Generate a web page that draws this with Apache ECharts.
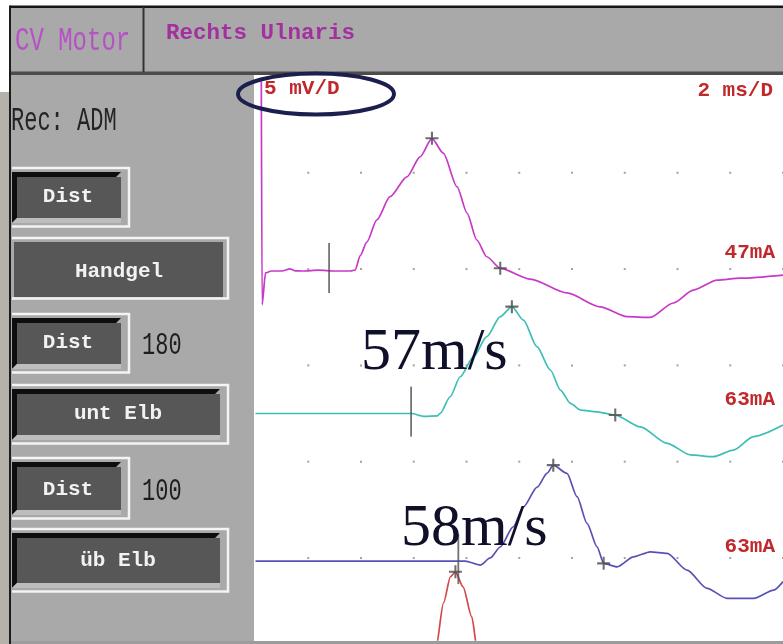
<!DOCTYPE html>
<html>
<head>
<meta charset="utf-8">
<script src="https://cdn.jsdelivr.net/npm/echarts@6/dist/echarts.min.js"></script>
<style>
  html, body { margin: 0; padding: 0; background: #ffffff; }
  #chart { width: 783px; height: 644px; }
</style>
</head>
<body>
<div id="chart"></div>
<script>
// Motor nerve conduction, right ulnar nerve, recording ADM.
// Time in ms after stimulus (2 ms per division), amplitude in mV (5 mV per division).

// Stimulation at the wrist (Handgel)
const wristT = [0.22, 0.25, 0.38, 0.6, 1.0, 1.3, 1.5, 1.8, 2.4, 3.0, 3.6, 3.78, 3.97, 4.22, 4.60, 5.10, 5.74, 6.24, 6.69, 7.12, 7.64, 8.02, 8.39, 8.77, 9.28, 10.42, 11.81, 13.07, 14.09, 14.97, 15.84, 16.60, 17.50, 18.39, 20.0];
const wristV = [9.8, -1.8, -0.15, -0.05, -0.05, 0.06, -0.04, -0.05, 0.0, -0.05, -0.05, 0.0, 0.75, 1.45, 2.60, 3.81, 4.84, 5.88, 6.84, 6.07, 4.33, 2.96, 1.56, 0.69, 0.09, -0.47, -1.19, -1.91, -2.42, -2.46, -1.71, -1.04, -0.52, -0.42, -0.26];

// Stimulation below the elbow (unt Elb)
const belowElbowT = [0, 1, 2, 3, 4, 5, 5.9, 6.4, 6.9, 7.0, 7.38, 7.76, 8.27, 8.77, 9.28, 9.72, 10.16, 10.67, 11.18, 11.56, 11.94, 12.32, 12.95, 13.64, 14.59, 15.61, 16.49, 17.36, 18.12, 18.88, 20.0];
const belowElbowV = [0, 0, 0, 0, 0, 0, 0, -0.15, -0.12, 0.01, 0.87, 1.91, 2.96, 3.99, 5.03, 5.55, 4.85, 3.47, 2.26, 1.22, 0.53, 0.18, 0.09, -0.08, -0.69, -1.55, -2.15, -2.24, -1.90, -1.20, -0.60];

// Stimulation above the elbow (üb Elb)
const aboveElbowT = [0, 2, 4, 6, 7.95, 8.52, 8.90, 9.28, 9.77, 10.15, 10.68, 11.06, 11.29, 11.81, 12.19, 12.57, 12.95, 13.20, 13.71, 14.33, 14.97, 15.61, 16.36, 17.12, 17.88, 18.89, 19.65, 20.0];
const aboveElbowV = [0, 0, 0, 0, 0, -0.21, 0.16, 0.73, 1.77, 2.80, 3.84, 4.57, 4.98, 4.55, 3.34, 1.96, 0.74, -0.12, -0.30, 0.22, 0.48, 0.40, -0.47, -1.42, -1.94, -1.94, -1.51, -1.07];

// Next trace in the stack, mostly below the display
const axillaT = [6.3, 6.83, 7.13, 7.39, 7.58, 7.87, 8.20, 8.41, 8.9];
const axillaV = [0, 1.23, 3.67, 5.02, 5.28, 4.50, 2.94, 1.23, 0];

// Vertical position (mV) of each trace's baseline on the screen
const traceBaseline = [-10.05, -17.5, -25.16, -31.0];

// Onset cursors (ms) for the three complete traces
const onsetTrace = [0, 1, 2];
const onsetT = [2.79, 5.90, 7.69];

// Peak / end cursors
const cursorTrace = [0, 0, 1, 1, 2, 2, 3];
const cursorT = [6.69, 9.28, 9.72, 13.64, 11.29, 13.20, 7.58];
const cursorV = [6.84, 0.09, 5.55, -0.08, 4.98, -0.12, 5.28];

// Stimulus intensity per trace
const stimLabels = ['47mA', '63mA', '63mA'];
const velocityLabels = ['57m/s', '58m/s'];
const distances = ['180', '100'];

// Graticule dot positions
const gridTimes = [2, 4, 6, 8, 10, 12, 14, 16, 18, 20];
const gridLevels = [-5, -10, -15, -20, -25];

const traceColors = ['#c73ac8', '#3cbfb4', '#5852b6', '#d24848'];

const traces = [
  [wristT, wristV],
  [belowElbowT, belowElbowV],
  [aboveElbowT, aboveElbowV],
  [axillaT, axillaV]
];

const dotData = [];
gridTimes.forEach(t => gridLevels.forEach(v => dotData.push([t, v])));

const lineSeries = traces.map(([ts, vs], k) => ({
  type: 'line',
  data: ts.map((t, i) => [t, vs[i] + traceBaseline[k]]),
  showSymbol: false,
  symbol: 'none',
  smooth: 0.25,
  smoothMonotone: 'x',
  clip: true,
  z: 3,
  lineStyle: { color: traceColors[k], width: 1.7 }
}));

const monoTall = '22px "Liberation Mono"';
const btnFont = 'bold 21px "Liberation Mono"';
const redFont = 'bold 21px "Liberation Mono"';

// Panel buttons: frame top, frame bottom, frame right, label, label centre, bevel
const buttons = [
  { T: 167, B: 228, R: 130, label: 'Dist',    cx: 68,  cy: 197, bevel: true },
  { T: 237, B: 300, R: 229, label: 'Handgel', cx: 119, cy: 272, bevel: false },
  { T: 313, B: 374, R: 130, label: 'Dist',    cx: 68,  cy: 343, bevel: true },
  { T: 384, B: 445, R: 229, label: 'unt Elb', cx: 118, cy: 414, bevel: true },
  { T: 457, B: 520, R: 130, label: 'Dist',    cx: 68,  cy: 490, bevel: true },
  { T: 528, B: 593, R: 229, label: 'üb Elb',  cx: 118, cy: 561, bevel: true }
];

const g = [];
// photo margin and window frame
g.push({ type: 'rect', shape: { x: 0, y: 92, width: 10, height: 552 }, style: { fill: '#b5b2ac' }, z: 0 });
g.push({ type: 'rect', shape: { x: 10, y: 7, width: 773, height: 68 }, style: { fill: '#a9a9a9' }, z: 0 });
g.push({ type: 'rect', shape: { x: 10, y: 5.5, width: 773, height: 2.5 }, style: { fill: '#161616' }, z: 1 });
g.push({ type: 'rect', shape: { x: 10, y: 71.5, width: 773, height: 3.5 }, style: { fill: '#4c4c4c' }, z: 1 });
g.push({ type: 'rect', shape: { x: 142.5, y: 7, width: 2, height: 65 }, style: { fill: '#333333' }, z: 1 });
g.push({ type: 'rect', shape: { x: 10, y: 75, width: 244, height: 569 }, style: { fill: '#a9a9a9' }, z: 0 });
g.push({ type: 'rect', shape: { x: 9, y: 5.5, width: 2, height: 639 }, style: { fill: '#1c1c1c' }, z: 1 });
g.push({ type: 'rect', shape: { x: 11, y: 641, width: 772, height: 3 }, style: { fill: '#9c9c9c' }, z: 1 });

// title texts
g.push({ type: 'text', x: 15, y: 41, scaleY: 1.35, z: 2,
  style: { text: 'CV Motor', font: '24px "Liberation Mono"', fill: '#b552c4', textAlign: 'left', textVerticalAlign: 'middle' } });
g.push({ type: 'text', x: 166, y: 33, z: 2,
  style: { text: 'Rechts Ulnaris', font: 'bold 22.5px "Liberation Mono"', fill: '#a3309f', textAlign: 'left', textVerticalAlign: 'middle' } });
g.push({ type: 'text', x: 11, y: 121, scaleY: 1.5, z: 2,
  style: { text: 'Rec: ADM', font: monoTall, fill: '#242424', textAlign: 'left', textVerticalAlign: 'middle' } });

buttons.forEach(b => {
  g.push({ type: 'polyline', z: 2,
    shape: { points: [[12, b.T + 1], [b.R - 1, b.T + 1], [b.R - 1, b.B - 1.5], [12, b.B - 1.5]] },
    style: { stroke: '#f4f4f4', lineWidth: 2.5, fill: null } });
  if (b.bevel) {
    g.push({ type: 'polygon', z: 2,
      shape: { points: [[12, b.T + 5], [b.R - 9, b.T + 5], [b.R - 14, b.T + 10], [17, b.T + 10], [17, b.B - 10], [12, b.B - 5]] },
      style: { fill: '#0e0e0e' } });
    g.push({ type: 'polygon', z: 2,
      shape: { points: [[12, b.B - 5], [17, b.B - 10], [b.R - 9, b.B - 10], [b.R - 9, b.B - 5]] },
      style: { fill: '#bdbdbd' } });
    g.push({ type: 'rect', z: 2,
      shape: { x: 17, y: b.T + 10, width: b.R - 26, height: b.B - b.T - 20 },
      style: { fill: '#575757' } });
  } else {
    g.push({ type: 'rect', z: 2,
      shape: { x: 14, y: b.T + 5, width: b.R - 20, height: b.B - b.T - 8 },
      style: { fill: '#575757' } });
  }
  g.push({ type: 'text', x: b.cx, y: b.cy, z: 3,
    style: { text: b.label, font: btnFont, fill: '#f2f2f2', textAlign: 'center', textVerticalAlign: 'middle' } });
});

// distances next to the Dist buttons
g.push({ type: 'text', x: 142, y: 346, scaleY: 1.45, z: 3,
  style: { text: distances[0], font: monoTall, fill: '#1e1e1e', textAlign: 'left', textVerticalAlign: 'middle' } });
g.push({ type: 'text', x: 142, y: 492, scaleY: 1.45, z: 3,
  style: { text: distances[1], font: monoTall, fill: '#1e1e1e', textAlign: 'left', textVerticalAlign: 'middle' } });

// scale and stimulus annotations inside the trace window
const red = '#c0282c';
g.push({ type: 'text', x: 264, y: 89, z: 20,
  style: { text: '5 mV/D', font: redFont, fill: red, textAlign: 'left', textVerticalAlign: 'middle' } });
g.push({ type: 'text', x: 773, y: 91, z: 20,
  style: { text: '2 ms/D', font: redFont, fill: red, textAlign: 'right', textVerticalAlign: 'middle' } });
[253, 400, 547].forEach((y, i) => g.push({ type: 'text', x: 775, y: y, z: 20,
  style: { text: stimLabels[i], font: redFont, fill: red, textAlign: 'right', textVerticalAlign: 'middle' } }));

// conduction velocities
g.push({ type: 'text', x: 361, y: 353, z: 30,
  style: { text: velocityLabels[0], font: '60px "Liberation Serif"', fill: '#10102a', textAlign: 'left', textVerticalAlign: 'middle' } });
g.push({ type: 'text', x: 401, y: 529, z: 30,
  style: { text: velocityLabels[1], font: '60px "Liberation Serif"', fill: '#10102a', textAlign: 'left', textVerticalAlign: 'middle' } });

// circled sensitivity setting
g.push({ type: 'ellipse', z: 40,
  shape: { cx: 316, cy: 94, rx: 78, ry: 20.5 },
  style: { fill: null, stroke: '#1b1f4e', lineWidth: 4 } });

const crossPath = 'path://M4.2,0H5.8V4.2H10V5.8H5.8V10H4.2V5.8H0V4.2H4.2Z';

const option = {
  animation: false,
  backgroundColor: '#ffffff',
  grid: { left: 255.5, top: 76.5, width: 527.5, height: 563.5, containLabel: false },
  xAxis: { type: 'value', min: 0, max: 20, show: false },
  yAxis: { type: 'value', min: -29.26, max: 0, show: false },
  graphic: { elements: g },
  series: [
    {
      type: 'scatter',
      data: dotData,
      symbol: 'rect',
      symbolSize: 2,
      itemStyle: { color: '#8c8c8c' },
      z: 2,
      silent: true
    },
    ...lineSeries,
    {
      type: 'scatter',
      data: onsetT.map((t, i) => [t, traceBaseline[onsetTrace[i]] + 0.1]),
      symbol: 'rect',
      symbolSize: [1.8, 50],
      itemStyle: { color: '#505050' },
      z: 4,
      silent: true
    },
    {
      type: 'scatter',
      data: cursorT.map((t, i) => [t, cursorV[i] + traceBaseline[cursorTrace[i]]]),
      symbol: crossPath,
      symbolSize: 13,
      itemStyle: { color: '#4a4a4a' },
      z: 5,
      clip: false,
      silent: true
    }
  ]
};

const chart = echarts.init(document.getElementById('chart'));
chart.setOption(option);
</script>
</body>
</html>
